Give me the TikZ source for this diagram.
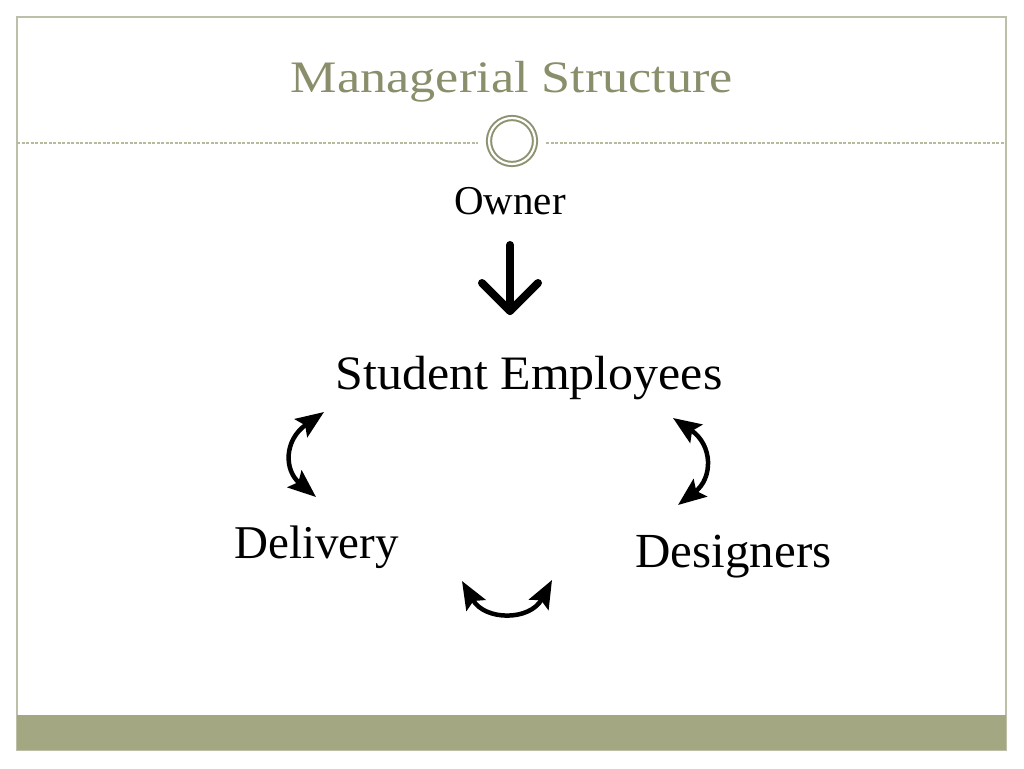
\documentclass[tikz,border=0pt]{standalone}
\usepackage{fontspec}
\setmainfont{Liberation Serif}
\usetikzlibrary{arrows.meta,calc}
\definecolor{olivetitle}{HTML}{8B8E6A}
\definecolor{olivebar}{HTML}{A3A882}
\definecolor{oliveframe}{HTML}{BDBFA8}
\definecolor{oliveline}{HTML}{B8BA9E}
\definecolor{olivering}{HTML}{8F9270}
\tikzset{
  txtlabel/.style={anchor=base, inner sep=0pt, text=black},
  swing/.style={line width=4.5pt, {Stealth[length=28pt,width=22pt,inset=5pt]}-{Stealth[length=28pt,width=22pt,inset=5pt]}},
  downarrow/.style={line width=8pt, line cap=round, line join=round}
}
\begin{document}
\begin{tikzpicture}[x=1pt,y=-1pt]
\useasboundingbox (0,0) rectangle (1024,768);
\fill[white] (0,0) rectangle (1024,768);
% frame and bottom bar
\draw[oliveframe, line width=1.5pt] (17,17) rectangle (1006,750);
\fill[olivebar] (17,715) rectangle (1006,750);
% dashed separator
\draw[oliveline, line width=1.3pt, dash pattern=on 3pt off 1.5pt] (17,143) -- (478,143);
\draw[oliveline, line width=1.3pt, dash pattern=on 3pt off 1.5pt] (546,143) -- (1006,143);
% double ring
\node[circle, minimum size=46pt, inner sep=0pt, draw=olivering, line width=2pt, double=white, double distance=2.2pt] (ring) at (512,141) {};
% title
\node[anchor=base, inner sep=0pt, text=olivetitle, font=\fontsize{45}{50}\selectfont] (title) at (512,92) {\scalebox{1.16}[1]{Managerial Structure}};
% labels
\node[txtlabel, font=\fontsize{41}{48}\selectfont] (owner) at (510,214) {Owner};
\node[txtlabel, font=\fontsize{48}{56}\selectfont] (student) at (529,389) {\scalebox{1.04}[1]{Student Employees}};
\node[txtlabel, font=\fontsize{47}{54}\selectfont] (delivery) at (316.5,558) {Delivery};
\node[txtlabel, font=\fontsize{49}{56}\selectfont] (designers) at (733.5,567) {Designers};
% owner -> student arrow
\coordinate (dtop) at (510,245);
\coordinate (dtip) at (510,311);
\draw[downarrow] (dtop) -- (dtip);
\draw[downarrow] ($(dtip)+(-28,-28)$) -- (dtip) -- ($(dtip)+(28,-28)$);
% curved double arrows
\coordinate (la) at (316,497);
\coordinate (lb) at (324,412);
\draw[swing] (la) .. controls (284,470) and (284,440) .. (lb);
\coordinate (ra) at (673,418);
\coordinate (rb) at (678,505);
\draw[swing] (ra) .. controls (713,445) and (713,478) .. (rb);
\coordinate (ba) at (462,581);
\coordinate (bb) at (552,580);
\draw[swing] (ba) .. controls (485,621) and (530,621) .. (bb);
\end{tikzpicture}
\end{document}
